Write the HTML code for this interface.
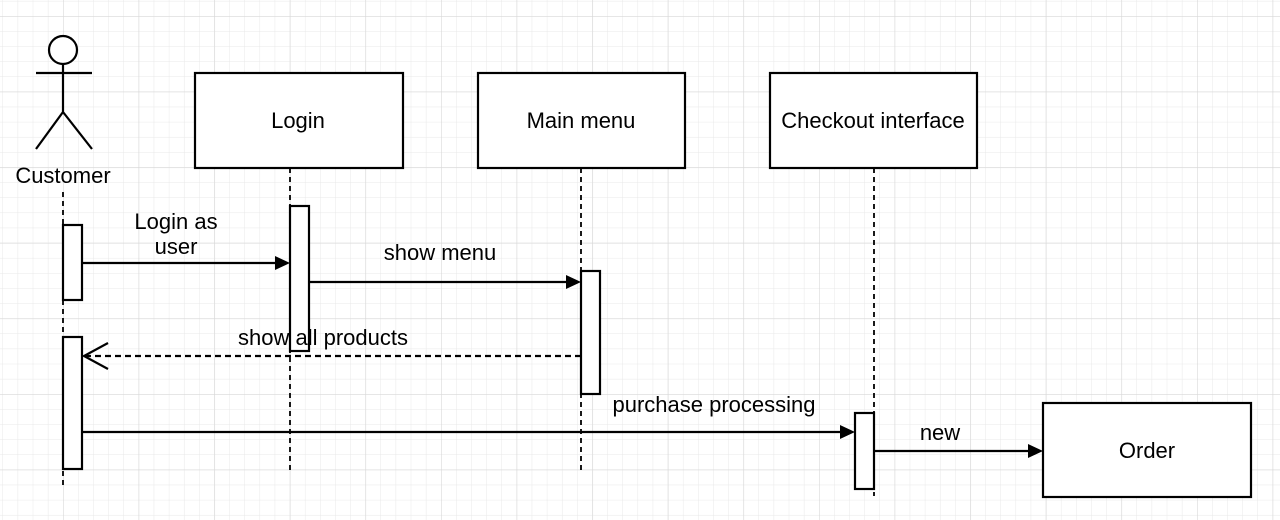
<!DOCTYPE html>
<html><head><meta charset="utf-8"><style>
html,body{margin:0;padding:0;background:#fff;}
svg{display:block;font-family:"Liberation Sans",Arial,sans-serif;}
</style></head><body>
<svg width="1280" height="520" viewBox="0 0 1280 520" xmlns="http://www.w3.org/2000/svg">
<defs>
<pattern id="minor" patternUnits="userSpaceOnUse" x="63" y="16" width="15.12" height="15.12">
<path d="M0 0H15.12M0 0V15.12" stroke="#e8e8e8" stroke-width="1" fill="none"/>
</pattern>
<pattern id="major" patternUnits="userSpaceOnUse" x="63" y="16" width="75.6" height="75.6">
<path d="M0 0H75.6M0 0V75.6" stroke="#d8d8d8" stroke-width="1.2" fill="none"/>
</pattern>
</defs>
<rect width="1280" height="520" fill="url(#minor)"/>
<rect width="1280" height="520" fill="url(#major)"/>
<g stroke="#000" stroke-width="2.2" fill="none">
<circle cx="63" cy="50" r="14" fill="#fff"/>
<path d="M63 64V112M36 73H92M63 112L36 149M63 112L92 149"/>
</g>
<g stroke="#000" stroke-width="1.8" stroke-dasharray="5,4" fill="none">
<path d="M63 192V488M290 168V470M581 168V470M874 168V496"/>
</g>
<g stroke="#000" stroke-width="2.2" fill="#fff">
<rect x="195" y="73" width="208" height="95"/>
<rect x="478" y="73" width="207" height="95"/>
<rect x="770" y="73" width="207" height="95"/>
<rect x="1043" y="403" width="208" height="94"/>
<rect x="63" y="225" width="19" height="75"/>
<rect x="63" y="337" width="19" height="132"/>
<rect x="290" y="206" width="19" height="145"/>
<rect x="581" y="271" width="19" height="123"/>
<rect x="855" y="413" width="19" height="76"/>
</g>
<g stroke="#000" stroke-width="2.2" fill="none">
<path d="M82 263H276M309 282H567M82 432H841M874 451H1029"/>
<path d="M581 356H84" stroke-dasharray="6,4"/>
<path d="M108 343L84 356L108 369"/>
</g>
<g fill="#000">
<path d="M290 263L275 256L275 270Z"/>
<path d="M581 282L566 275L566 289Z"/>
<path d="M855 432L840 425L840 439Z"/>
<path d="M1043 451L1028 444L1028 458Z"/>
</g>
<g font-size="22" fill="#000" text-anchor="middle">
<text x="63" y="183">Customer</text>
<text x="298" y="128">Login</text>
<text x="581" y="128">Main menu</text>
<text x="873" y="128">Checkout interface</text>
<text x="1147" y="458">Order</text>
<text x="176" y="229">Login as</text>
<text x="176" y="254">user</text>
<text x="440" y="260">show menu</text>
<text x="323" y="345">show all products</text>
<text x="714" y="412">purchase processing</text>
<text x="940" y="440">new</text>
</g>
</svg>
</body></html>
